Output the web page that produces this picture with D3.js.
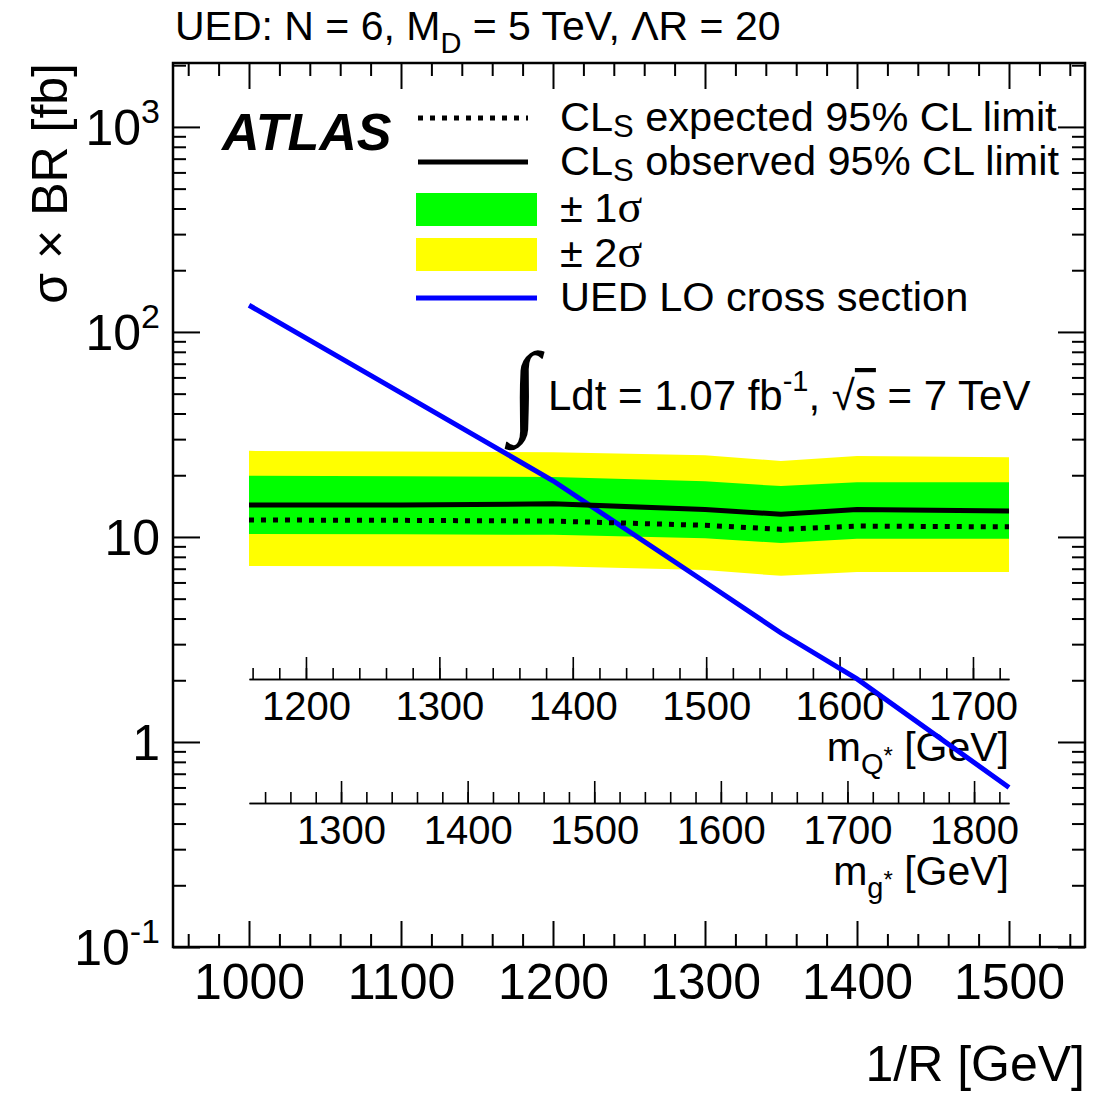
<!DOCTYPE html>
<html><head><meta charset="utf-8">
<script src="https://cdn.jsdelivr.net/npm/d3@7"></script>
<style>
body{margin:0;background:#fff}
text{font-family:"Liberation Sans",Arial,Helvetica,sans-serif;fill:#000}
</style>
</head><body>
<svg id="c" width="1104" height="1095"></svg>
<script>
// ---- data ----
const invR     = [1000, 1100, 1200, 1300, 1350, 1400, 1500];
const expected = [12.1, 12.05, 11.95, 11.4, 10.9, 11.3, 11.2];
const observed = [14.3, 14.3, 14.5, 13.6, 12.9, 13.6, 13.4];
const plus1    = [19.9, 19.8, 19.6, 18.7, 17.7, 18.5, 18.5];
const minus1   = [10.34, 10.3, 10.25, 9.85, 9.35, 9.8, 9.8];
const plus2    = [26.3, 26.1, 25.9, 25.0, 23.5, 24.8, 24.5];
const minus2   = [7.22, 7.2, 7.2, 6.9, 6.46, 6.75, 6.75];
const uedR     = [1000, 1100, 1200, 1300, 1350, 1400, 1500];
const uedXsec  = [135, 50.4, 18.8, 6.03, 3.40, 2.03, 0.60];
const xTicks   = [1000, 1100, 1200, 1300, 1400, 1500];
const yTicks   = [0.1, 1, 10, 100, 1000];
const yTickBase = ["10", "1", "10", "10", "10"];
const yTickExp  = ["-1", "", "", "2", "3"];
const mQTicks  = [1200, 1300, 1400, 1500, 1600, 1700];
const mgTicks  = [1300, 1400, 1500, 1600, 1700, 1800];
const mQRange  = [1157.3, 1727];
const mgRange  = [1227.3, 1827.6];

// ---- layout ----
const svg = d3.select("#c");
const L = 173, R = 1085, T = 63, B = 947;
const x = d3.scaleLinear().domain([950, 1550]).range([L, R]);
const y = d3.scaleLog().domain([0.1, 2050]).range([B, T]);

const idx = d3.range(invR.length);
const band = (lo, hi) => d3.area().x(i => x(invR[i])).y0(i => y(lo[i])).y1(i => y(hi[i]));
const ln = arr => d3.line().x(i => x(invR[i])).y(i => y(arr[i]));

svg.append("path").attr("d", band(minus2, plus2)(idx)).attr("fill", "#ffff00");
svg.append("path").attr("d", band(minus1, plus1)(idx)).attr("fill", "#00ff00");

// ---- secondary mass axes ----
function secAxis(range, ticks, yPos, sub) {
  const s = d3.scaleLinear().domain(range).range([x(1000), x(1500)]);
  const g = svg.append("g").attr("transform", `translate(0,${yPos})`);
  const minor = d3.range(Math.ceil(range[0] / 20) * 20, range[1], 20);
  g.append("g").call(d3.axisBottom(s).tickValues(minor).tickSizeInner(-11).tickSizeOuter(0).tickFormat(""));
  const ga = g.append("g").call(d3.axisBottom(s).tickValues(ticks).tickSizeInner(-22).tickSizeOuter(0).tickPadding(13).tickFormat(d3.format("d")));
  g.selectAll("path.domain").attr("stroke-width", 1.6);
  g.selectAll("line").attr("stroke-width", 1.6);
  ga.selectAll("text").attr("font-size", 40).attr("font-family", "Liberation Sans, Arial, sans-serif");
  const t = svg.append("text").attr("x", x(1500)).attr("y", yPos + 82).attr("text-anchor", "end").attr("font-size", 41);
  t.append("tspan").text("m");
  t.append("tspan").attr("font-size", 29).attr("dy", 13).text(sub);
  t.append("tspan").attr("font-size", 24).attr("dy", -10).text("*");
  t.append("tspan").attr("dy", -3).text(" [GeV]");
}
secAxis(mQRange, mQTicks, 679, "Q");
secAxis(mgRange, mgTicks, 803, "g");

// ---- curves ----
svg.append("path").attr("d", d3.line().x(i => x(uedR[i])).y(i => y(uedXsec[i]))(d3.range(uedR.length)))
  .attr("fill", "none").attr("stroke", "#0000ff").attr("stroke-width", 5);
svg.append("path").attr("d", ln(expected)(idx)).attr("fill", "none").attr("stroke", "#000")
  .attr("stroke-width", 5).attr("stroke-dasharray", "5,7");
svg.append("path").attr("d", ln(observed)(idx)).attr("fill", "none").attr("stroke", "#000").attr("stroke-width", 5);

// ---- frame axes ----
const xMinor = d3.range(960, 1550, 20).filter(v => v % 100 !== 0);
const yMinor = [];
[0.1, 1, 10, 100, 1000].forEach(d => { for (let k = 2; k <= 9; k++) if (d * k <= 2050) yMinor.push(d * k); });

const gB = svg.append("g").attr("transform", `translate(0,${B})`);
gB.append("g").call(d3.axisBottom(x).tickValues(xMinor).tickSizeInner(-13).tickSizeOuter(0).tickFormat(""));
const gBm = gB.append("g").call(d3.axisBottom(x).tickValues(xTicks).tickSizeInner(-26).tickSizeOuter(0).tickPadding(16).tickFormat(d3.format("d")));
gBm.selectAll("text").attr("font-size", 50).attr("font-family", "Liberation Sans, Arial, sans-serif");

const gT = svg.append("g").attr("transform", `translate(0,${T})`);
gT.append("g").call(d3.axisTop(x).tickValues(xMinor).tickSizeInner(-13).tickSizeOuter(0).tickFormat(""));
gT.append("g").call(d3.axisTop(x).tickValues(xTicks).tickSizeInner(-26).tickSizeOuter(0).tickFormat(""));

const gL = svg.append("g").attr("transform", `translate(${L},0)`);
gL.append("g").call(d3.axisLeft(y).tickValues(yMinor).tickSizeInner(-13).tickSizeOuter(0).tickFormat(""));
gL.append("g").call(d3.axisLeft(y).tickValues(yTicks).tickSizeInner(-27).tickSizeOuter(0).tickFormat(""));

const gR = svg.append("g").attr("transform", `translate(${R},0)`);
gR.append("g").call(d3.axisRight(y).tickValues(yMinor).tickSizeInner(-13).tickSizeOuter(0).tickFormat(""));
gR.append("g").call(d3.axisRight(y).tickValues(yTicks).tickSizeInner(-27).tickSizeOuter(0).tickFormat(""));

[gB, gT, gL, gR].forEach(g => { g.selectAll("path.domain").remove(); g.selectAll("line").attr("stroke-width", 2); });
svg.append("rect").attr("x", L).attr("y", T).attr("width", R - L).attr("height", B - T)
  .attr("fill", "none").attr("stroke", "#000").attr("stroke-width", 2.5);

// y tick labels
yTicks.forEach((v, i) => {
  const t = svg.append("text").attr("x", 160).attr("y", y(v) + 18).attr("text-anchor", "end").attr("font-size", 50);
  t.append("tspan").text(yTickBase[i]);
  if (yTickExp[i]) t.append("tspan").attr("font-size", 34).attr("dy", -22).text(yTickExp[i]);
});

// axis titles
svg.append("text").attr("x", R).attr("y", 1081).attr("text-anchor", "end").attr("font-size", 50).text("1/R [GeV]");
svg.append("text").attr("transform", `translate(67,${T}) rotate(-90)`).attr("text-anchor", "end")
  .attr("font-size", 50).text("\u03c3 \u00d7 BR [fb]");

// title
const tt = svg.append("text").attr("x", 175).attr("y", 40).attr("font-size", 41);
tt.append("tspan").text("UED: N = 6, M");
tt.append("tspan").attr("font-size", 29).attr("dy", 13).text("D");
tt.append("tspan").attr("dy", -13).text(" = 5 TeV, \u039bR = 20");

// ATLAS
svg.append("text").attr("x", 222).attr("y", 150).attr("font-size", 52).attr("font-weight", "bold")
  .attr("font-style", "italic").text("ATLAS");

// legend
const legY = [118, 162, 209, 254, 298];
const lg = svg.append("g");
lg.append("line").attr("x1", 418).attr("x2", 528).attr("y1", legY[0]).attr("y2", legY[0])
  .attr("stroke", "#000").attr("stroke-width", 5).attr("stroke-dasharray", "5,7");
lg.append("line").attr("x1", 418).attr("x2", 528).attr("y1", legY[1]).attr("y2", legY[1])
  .attr("stroke", "#000").attr("stroke-width", 5);
lg.append("rect").attr("x", 416).attr("y", legY[2] - 16).attr("width", 121).attr("height", 33).attr("fill", "#00ff00");
lg.append("rect").attr("x", 416).attr("y", legY[3] - 16).attr("width", 121).attr("height", 33).attr("fill", "#ffff00");
lg.append("line").attr("x1", 416).attr("x2", 537).attr("y1", legY[4]).attr("y2", legY[4])
  .attr("stroke", "#0000ff").attr("stroke-width", 5);

function legText(i, parts) {
  const t = lg.append("text").attr("x", 560).attr("y", legY[i] + 13).attr("font-size", 41.5);
  parts(t);
}
legText(0, t => { t.append("tspan").text("CL"); t.append("tspan").attr("font-size", 31).attr("dy", 6).text("S");
  t.append("tspan").attr("dy", -6).text(" expected 95% CL limit"); });
legText(1, t => { t.append("tspan").text("CL"); t.append("tspan").attr("font-size", 31).attr("dy", 6).text("S");
  t.append("tspan").attr("dy", -6).text(" observed 95% CL limit"); });
legText(2, t => { t.append("tspan").text("\u00b1 1"); t.append("tspan").attr("font-family", "Liberation Serif, serif").attr("font-size", 46).text("\u03c3"); });
legText(3, t => { t.append("tspan").text("\u00b1 2"); t.append("tspan").attr("font-family", "Liberation Serif, serif").attr("font-size", 46).text("\u03c3"); });
legText(4, t => { t.text("UED LO cross section"); });

// luminosity label
svg.append("text").attr("transform", "translate(510,423) scale(1.1,1.06)").attr("font-size", 96)
  .style("font-family", "Liberation Serif, serif").style("font-weight", "bold").text("\u222b");
const lt = svg.append("text").attr("x", 548).attr("y", 410).attr("font-size", 42);
lt.append("tspan").text("Ldt = 1.07 fb");
lt.append("tspan").attr("font-size", 29).attr("dy", -19).text("-1");
lt.append("tspan").attr("dy", 19).text(", \u221a");
lt.append("tspan").attr("text-decoration", "overline").text("s");
lt.append("tspan").text(" = 7 TeV");
</script>
</body></html>
